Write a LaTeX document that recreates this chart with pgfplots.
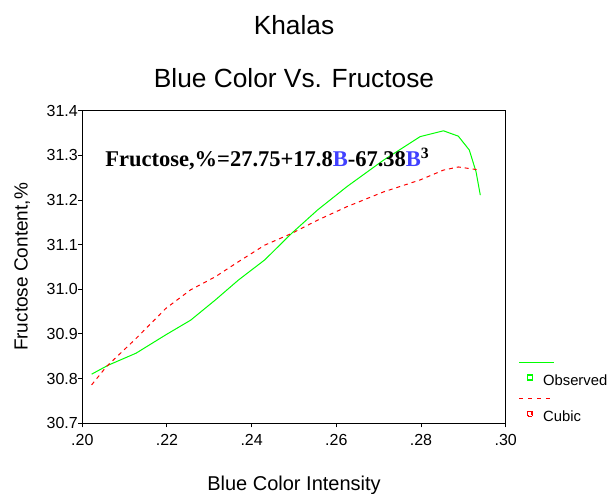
\documentclass[border=0pt]{standalone}
\usepackage{fontspec}
\setmainfont{Liberation Sans}
\newfontfamily\eqfont{Liberation Serif}
\usepackage{pgfplots}
\pgfplotsset{compat=1.18}
\definecolor{obsgreen}{RGB}{0,255,0}
\definecolor{cubred}{RGB}{255,0,0}
\definecolor{eqblue}{RGB}{64,64,255}

\begin{document}
\begin{tikzpicture}[x=1pt,y=1pt]
\useasboundingbox (0,0) rectangle (607,494);
\node[font=\fontsize{26.3}{30}\selectfont, anchor=base, inner sep=0pt] at (294,459) {Khalas};
\node[font=\fontsize{26.3}{30}\selectfont, anchor=base, inner sep=0pt] at (294,406.5) {Blue Color Vs. Fructose};
\begin{axis}[
    at={(82.3pt,70.7pt)}, anchor=south west,
    scale only axis, width=423.4pt, height=312.6pt,
    xmin=0.20, xmax=0.30, ymin=30.7, ymax=31.4,
    xtick={0.20,0.22,0.24,0.26,0.28,0.30},
    xticklabels={.20,.22,.24,.26,.28,.30},
    ytick={30.7,30.8,30.9,31.0,31.1,31.2,31.3,31.4},
    yticklabel style={xshift=3pt, /pgf/number format/.cd, fixed, fixed zerofill, precision=1},
    /pgf/number format/assume math mode=true,
    tick align=outside, xtick pos=bottom, ytick pos=left,
    major tick length=4pt,
    axis line style={line width=1.2pt},
    tick style={line width=1pt, black},
    ticklabel style={font=\fontsize{16}{18}\selectfont},
    xticklabel style={yshift=-3pt},
    xlabel={Blue Color Intensity},
    ylabel={Fructose Content,\%},
    xlabel style={font=\fontsize{20}{24}\selectfont, at={(axis description cs:0.5,-0.2134)}, anchor=base},
    ylabel style={font=\fontsize{19}{22}\selectfont, at={(axis description cs:-0.129,0.5)}, anchor=base},
    legend style={draw=none, fill=none, inner sep=0pt, at={(1.0496,0.0787)}, anchor=west,
        font=\fontsize{14.8}{17}\selectfont, row sep=20pt, column sep=8pt},
    legend cell align=left,
]
\addplot[obsgreen, line width=1pt,
    legend image code/.code={
        \draw[overlay, draw=obsgreen, solid, line width=1.3pt] (-10.7pt,18pt) -- (24.3pt,18pt);
        \fill[obsgreen] (-2.6pt,0.4pt) rectangle (2.6pt,5.6pt);
        \fill[white] (-1.4pt,1.6pt) rectangle (1.4pt,4.4pt);}]
coordinates {
(0.2022,30.810) (0.2061,30.830) (0.2127,30.857) (0.2197,30.898) (0.2256,30.931)
(0.2314,30.976) (0.2369,31.021) (0.2431,31.066) (0.2494,31.125) (0.2556,31.178)
(0.2625,31.230) (0.2711,31.289) (0.2798,31.342) (0.2853,31.355) (0.2888,31.343)
(0.2914,31.312) (0.2930,31.263) (0.2940,31.211)
};
\addlegendentry{Observed}
\addplot[cubred, line width=1pt, dash pattern=on 4pt off 4pt,
    legend image code/.code={
        \draw[overlay, draw=cubred, line width=1.3pt, dash pattern=on 4pt off 5pt] (-10.7pt,18pt) -- (24.3pt,18pt);
        \fill[cubred] (-2.6pt,0.4pt) rectangle (2.6pt,5.6pt);
        \fill[white] (-1.4pt,1.6pt) rectangle (1.4pt,4.4pt);}]
coordinates {
(0.2022,30.786) (0.2057,30.827) (0.2127,30.890) (0.2197,30.957) (0.2256,30.999)
(0.2314,31.028) (0.2369,31.062) (0.2431,31.099) (0.2494,31.125) (0.2556,31.155)
(0.2625,31.185) (0.2711,31.218) (0.2798,31.245) (0.2853,31.267) (0.2888,31.274)
(0.2940,31.267)
};
\addlegendentry{Cubic}
\node[anchor=base west, inner sep=0pt, font=\eqfont\bfseries\fontsize{22.5}{26}\selectfont]
    at (axis cs:0.2054,31.276)
    {Fructose,\%=27.75+17.8\textcolor{eqblue}{B}-67.38\textcolor{eqblue}{B}\textsuperscript{3}};
\end{axis}
\end{tikzpicture}
\end{document}
